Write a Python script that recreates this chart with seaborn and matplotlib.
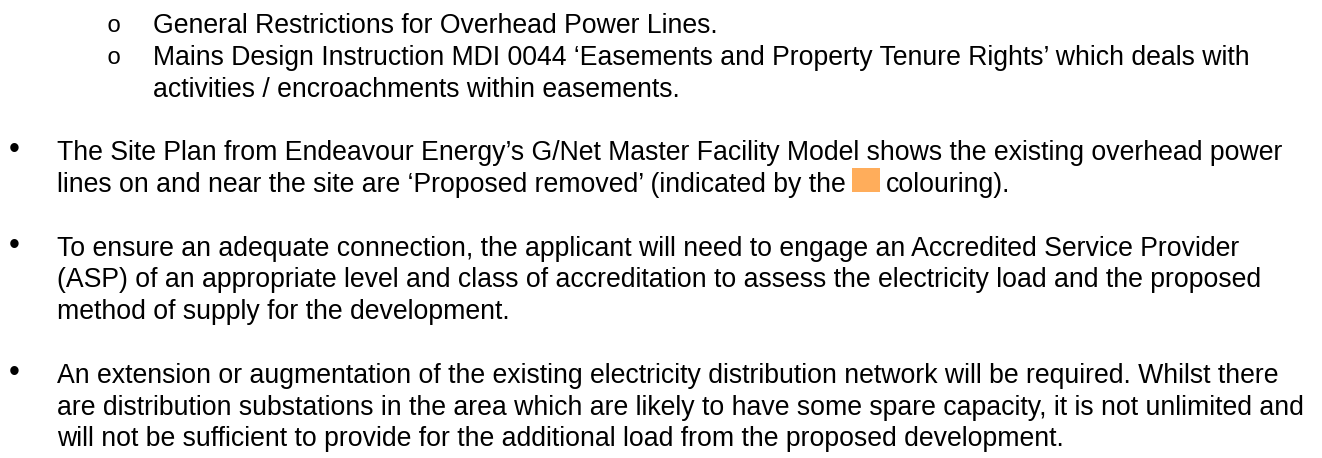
import matplotlib
matplotlib.use("Agg")
import matplotlib.pyplot as plt
import seaborn as sns

# Text content of the page, one entry per rendered line
sub_lines = [
    "General Restrictions for Overhead Power Lines.",
    "Mains Design Instruction MDI 0044 \u2018Easements and Property Tenure Rights\u2019 which deals with",
    "activities / encroachments within easements.",
]
sub_markers = [True, True, False]

bullet_paras = [
    ["The Site Plan from Endeavour Energy\u2019s G/Net Master Facility Model shows the existing overhead power",
     "lines on and near the site are \u2018Proposed removed\u2019 (indicated by the"],
    ["To ensure an adequate connection, the applicant will need to engage an Accredited Service Provider",
     "(ASP) of an appropriate level and class of accreditation to assess the electricity load and the proposed",
     "method of supply for the development."],
    ["An extension or augmentation of the existing electricity distribution network will be required. Whilst there",
     "are distribution substations in the area which are likely to have some spare capacity, it is not unlimited and",
     "will not be sufficient to provide for the additional load from the proposed development."],
]
swatch_tail = "colouring)."
swatch_color = "#FFAD5B"

sns.set_theme(style="white")
plt.rcParams["font.family"] = ["Liberation Sans", "DejaVu Sans"]

W, H = 1322, 458
fig = plt.figure(figsize=(W / 100, H / 100), dpi=100)
ax = fig.add_axes([0, 0, 1, 1])
ax.set_xlim(0, W)
ax.set_ylim(H, 0)
ax.axis("off")

fs = 19.2
line_h = 31.8
top = 33
sub_x, sub_mark_x = 153, 106
bul_x, bul_mark_x = 57, 9

row = 0
for txt, mark in zip(sub_lines, sub_markers):
    y = top + row * line_h
    if mark:
        ax.text(sub_mark_x, y - 1, "o", fontsize=fs - 2, family="Liberation Mono",
                va="baseline", ha="left", color="black")
    ax.text(sub_x, y, txt, fontsize=fs, va="baseline", ha="left", color="black")
    row += 1

fig.canvas.draw()
renderer = fig.canvas.get_renderer()

for para in bullet_paras:
    row += 1  # blank line between paragraphs
    for i, txt in enumerate(para):
        y = top + row * line_h
        if i == 0:
            ax.text(bul_mark_x, y - 2, "\u2022", fontsize=fs + 3, va="baseline",
                    ha="left", color="black")
        t = ax.text(bul_x, y, txt, fontsize=fs, va="baseline", ha="left", color="black")
        if para is bullet_paras[0] and i == len(para) - 1:
            bb = t.get_window_extent(renderer=renderer)
            x0 = bb.x1 + 6
            ax.add_patch(plt.Rectangle((x0, y - 24), 28, 24, color=swatch_color, lw=0))
            ax.text(x0 + 34, y, swatch_tail, fontsize=fs, va="baseline", ha="left", color="black")
        row += 1

fig.savefig("out.png", dpi=100, facecolor="white")
